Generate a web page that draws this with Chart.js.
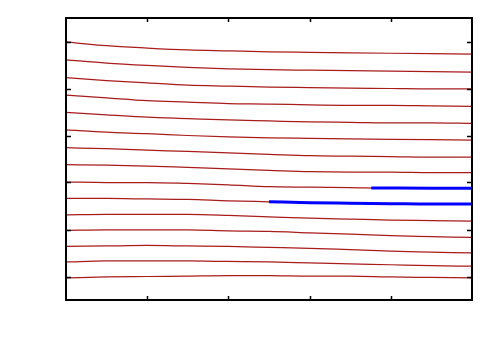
<!DOCTYPE html>
<html>
<head>
<meta charset="utf-8">
<script src="https://cdn.jsdelivr.net/npm/chart.js@4/dist/chart.umd.min.js"></script>
<style>
  body { margin: 0; background: #fff; }
</style>
</head>
<body>
<canvas id="chart" width="500" height="350"></canvas>
<script>
// sample positions along x (shared by every streamline)
const xs = [0, 0.5, 1, 1.5, 2, 2.5, 3, 3.5, 4, 4.5, 5]

// red streamlines, top to bottom
const line1  = [4.99, 4.91, 4.86, 4.82, 4.80, 4.78, 4.77, 4.76, 4.75, 4.74, 4.73]
const line2  = [4.61, 4.54, 4.49, 4.45, 4.42, 4.40, 4.39, 4.38, 4.37, 4.36, 4.35]
const line3  = [4.23, 4.17, 4.12, 4.07, 4.05, 4.03, 4.02, 4.01, 4.00, 3.99, 3.99]
const line4  = [3.86, 3.80, 3.74, 3.71, 3.68, 3.67, 3.65, 3.64, 3.64, 3.63, 3.62]
const line5  = [3.49, 3.44, 3.39, 3.36, 3.33, 3.31, 3.29, 3.28, 3.27, 3.27, 3.26]
const line6  = [3.12, 3.07, 3.04, 3.00, 2.97, 2.95, 2.94, 2.93, 2.92, 2.91, 2.90]
const line7  = [2.74, 2.72, 2.69, 2.66, 2.63, 2.60, 2.57, 2.56, 2.55, 2.54, 2.54]
const line8  = [2.38, 2.37, 2.35, 2.32, 2.29, 2.26, 2.23, 2.22, 2.22, 2.21, 2.21]
const line9  = [2.01, 2.00, 2.00, 1.98, 1.95, 1.91, 1.90, 1.89, 1.88, 1.88, 1.88]
const line10 = [1.66, 1.66, 1.65, 1.64, 1.61, 1.59, 1.57, 1.56, 1.55, 1.54, 1.54]
const line11 = [1.31, 1.32, 1.32, 1.32, 1.30, 1.27, 1.24, 1.22, 1.20, 1.19, 1.18]
const line12 = [0.98, 0.99, 0.99, 0.99, 0.97, 0.96, 0.93, 0.90, 0.87, 0.85, 0.83]
const line13 = [0.64, 0.65, 0.66, 0.65, 0.64, 0.62, 0.60, 0.57, 0.54, 0.52, 0.50]
const line14 = [0.31, 0.33, 0.33, 0.33, 0.32, 0.31, 0.29, 0.27, 0.25, 0.23, 0.22]
const line15 = [-0.03, -0.01, 0.00, 0.01, 0.02, 0.02, 0.01, 0.01, -0.01, -0.02, -0.03]

// blue highlighted pieces
const blueUpperX = [3.76, 4, 4.5, 5]
const blueUpperY = [1.885, 1.883, 1.879, 1.877]
const blueLowerX = [2.5, 3, 3.5, 4, 4.5, 5]
const blueLowerY = [1.59, 1.57, 1.56, 1.55, 1.54, 1.54]

// tick positions (no labels in the picture)
const xTicks = [1, 2, 3, 4]
const yTicks = [0, 1, 2, 3, 4, 5]

const redLines = [line1, line2, line3, line4, line5, line6, line7, line8,
                  line9, line10, line11, line12, line13, line14, line15]

function pts(x, y){
    return x.map((v, i) => ({x: v, y: y[i]}))
}

const datasets = redLines.map(l => ({
    data: pts(xs, l),
    borderColor: '#a81c1c',
    borderWidth: 1.25,
    pointRadius: 0,
    cubicInterpolationMode: 'monotone',
    order: 2,
}))
datasets.push({ data: pts(blueUpperX, blueUpperY), borderColor: '#0000ff', borderWidth: 3, pointRadius: 0, cubicInterpolationMode: 'monotone', order: 1 })
datasets.push({ data: pts(blueLowerX, blueLowerY), borderColor: '#0000ff', borderWidth: 3, pointRadius: 0, cubicInterpolationMode: 'monotone', order: 1 })

// frame with inward ticks on all four sides
const frame = {
    id: 'frame',
    afterDraw(chart){
        const {ctx, chartArea: a, scales} = chart
        ctx.save()
        ctx.strokeStyle = '#000'
        ctx.lineWidth = 2
        ctx.strokeRect(a.left, a.top, a.right - a.left, a.bottom - a.top)
        ctx.lineWidth = 1.5
        ctx.beginPath()
        xTicks.forEach(t => {
            const px = Math.round(scales.x.getPixelForValue(t)) + 0.5
            ctx.moveTo(px, a.bottom); ctx.lineTo(px, a.bottom - 4)
            ctx.moveTo(px, a.top); ctx.lineTo(px, a.top + 4)
        })
        yTicks.forEach(t => {
            const py = Math.round(scales.y.getPixelForValue(t)) + 0.5
            ctx.moveTo(a.left, py); ctx.lineTo(a.left + 5, py)
            ctx.moveTo(a.right, py); ctx.lineTo(a.right - 5, py)
        })
        ctx.stroke()
        ctx.restore()
    }
}

new Chart(document.getElementById('chart'), {
    type: 'line',
    data: { datasets },
    options: {
        responsive: false,
        animation: false,
        layout: { padding: { left: 66, right: 28, top: 18, bottom: 50 } },
        plugins: { legend: { display: false }, tooltip: { enabled: false } },
        scales: {
            x: { type: 'linear', min: 0, max: 5, display: false },
            y: { type: 'linear', min: -0.5, max: 5.5, display: false },
        },
    },
    plugins: [frame],
})
</script>
</body>
</html>
